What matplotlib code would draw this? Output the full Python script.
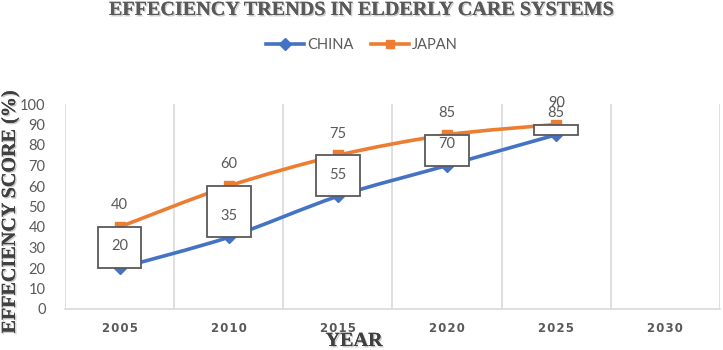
import numpy as np
import matplotlib
matplotlib.use("Agg")
import matplotlib.pyplot as plt
from matplotlib.path import Path
from matplotlib.patches import PathPatch, Rectangle
from matplotlib.lines import Line2D
import matplotlib.patheffects as pe

years = ["2005", "2010", "2015", "2020", "2025", "2030"]
china = [20, 35, 55, 70, 85]
japan = [40, 60, 75, 85, 90]

BLUE = "#4472C4"
ORANGE = "#ED7D31"
GRAY = "#595959"
GRID = "#D9D9D9"

fig = plt.figure(figsize=(7.23, 3.5), dpi=100)
ax = fig.add_axes([65/723, 1-309/350, (720-65)/723, (309-104)/350])

def smooth_path(xs, ys, k=7.0):
    pts = np.column_stack([xs, ys]).astype(float)
    n = len(pts)
    verts = [pts[0]]
    codes = [Path.MOVETO]
    for i in range(n-1):
        p0 = pts[i-1] if i > 0 else pts[i]
        p1 = pts[i]
        p2 = pts[i+1]
        p3 = pts[i+2] if i+2 < n else pts[i+1]
        c1 = p1 + (p2 - p0) / k
        c2 = p2 - (p3 - p1) / k
        verts += [c1, c2, p2]
        codes += [Path.CURVE4]*3
    return Path(verts, codes)

xs = np.arange(len(china))
for vals, col in [(china, BLUE), (japan, ORANGE)]:
    ax.add_patch(PathPatch(smooth_path(xs, vals), fill=False, edgecolor=col,
                           lw=2.6, zorder=2, capstyle='round'))

ax.plot(xs, china, ls='none', marker='D', ms=6.5, color=BLUE, zorder=3)
ax.plot(xs, japan, ls='none', marker='s', ms=6.5, color=ORANGE, zorder=3)

bw = 0.4
for x, c, j in zip(xs, china, japan):
    lo, hi = min(c, j), max(c, j)
    ax.add_patch(Rectangle((x - bw/2, lo), bw, hi - lo, facecolor='white',
                           edgecolor=GRAY, lw=1.3, zorder=4))

for x, c, j in zip(xs, china, japan):
    ax.annotate(str(c), (x, c), xytext=(0, 15.5), textcoords='offset points',
                ha='center', va='center', color=GRAY, fontsize=10.5,
                family='Lato', zorder=6)
    ax.annotate(str(j), (x, j), xytext=(0, 15.5), textcoords='offset points',
                ha='center', va='center', color=GRAY, fontsize=10.5,
                family='Lato', zorder=6)

ax.set_xlim(-0.5, len(years) - 0.5)
ax.set_ylim(0, 100)
ax.set_yticks(range(0, 101, 10))
ax.set_yticklabels([str(v) for v in range(0, 101, 10)], family='Lato',
                   fontsize=10.5, color=GRAY)
ax.set_xticks(range(len(years)))
ax.set_xticklabels(["\u200a".join(y) for y in years], family='DejaVu Sans',
                   fontsize=8.5, fontweight='bold', color=GRAY)
ax.tick_params(axis='y', length=0, pad=14)
ax.tick_params(axis='x', length=0, pad=9)
for b in np.arange(-0.5, len(years), 1.0):
    ax.axvline(b, color=GRID, lw=1.2, zorder=1)
for s in ['top', 'right', 'left']:
    ax.spines[s].set_visible(False)
ax.spines['bottom'].set_color(GRID)
ax.spines['bottom'].set_linewidth(1.2)

shadow = [pe.withSimplePatchShadow(offset=(1, -1), shadow_rgbFace='#b0b0b0', alpha=0.7), pe.Normal()]
fig.text(361/723, 1-10/350, "EFFECIENCY TRENDS IN ELDERLY CARE SYSTEMS",
         ha='center', va='center', family='Liberation Serif', fontweight='bold',
         fontsize=14.5, color=GRAY, path_effects=shadow)
fig.text(10/723, 1-212/350, "EFFECIENCY SCORE (%)", rotation=90,
         ha='center', va='center', family='Liberation Serif', fontweight='bold',
         fontsize=14.5, color='#404040', path_effects=shadow)
fig.text(354/723, 1-341/350, "YEAR", ha='center', va='center',
         family='Liberation Serif', fontweight='bold', fontsize=14.5,
         color='#404040', path_effects=shadow)

handles = [Line2D([], [], color=BLUE, lw=2.6, marker='D', ms=6),
           Line2D([], [], color=ORANGE, lw=2.6, marker='s', ms=6)]
fig.legend(handles, ["CHINA", "JAPAN"], loc='center', bbox_to_anchor=(362/723, 1-45/350),
           ncol=2, frameon=False, prop={'family': 'Lato', 'size': 10.5},
           handlelength=2.6, handletextpad=0.2, columnspacing=1.2, labelcolor=GRAY)

fig.savefig("out.png", dpi=100)
